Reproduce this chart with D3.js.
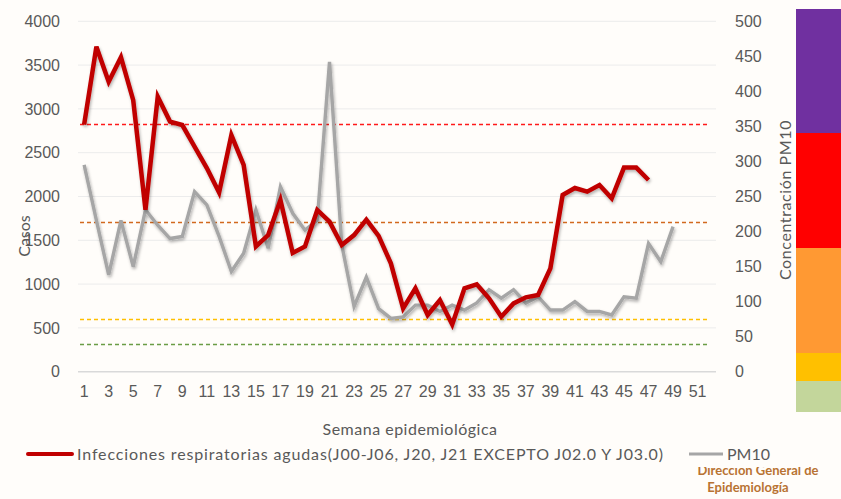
<!DOCTYPE html>
<meta charset="utf-8">
<style>
  body { margin: 0; background: #fffdfa; }
  svg { display: block; font-family: Lato, "Open Sans", sans-serif; }
</style>
<body>
<svg width="841" height="499"></svg>

<script src="https://d3js.org/d3.v7.min.js"></script>
<script>

// weeks on the x axis (1..52), only the odd ones get a label
var weeks = d3.range(1, 53);

// casos de infecciones respiratorias agudas, semanas 1-47
var ira = [2820, 3710, 3310, 3590, 3100, 1850, 3140, 2855, 2816, 2570,
           2325, 2045, 2700, 2360, 1430, 1560, 1960, 1355, 1430, 1846,
           1712, 1446, 1560, 1735, 1550, 1237, 723, 952, 647, 818,
           540, 952, 997, 838, 628, 780, 849, 875, 1180, 2017,
           2097, 2055, 2131, 1979, 2330, 2330, 2188];

// concentracion PM10, semanas 1-49
var pm10 = [295, 216, 138, 216, 150, 231, 209, 190, 193, 257,
            238, 193, 143, 169, 231, 176, 264, 226, 202, 216,
            442, 181, 93, 135, 90, 76, 78, 95, 95, 86,
            95, 88, 98, 117, 105, 117, 98, 107, 88, 88,
            100, 86, 86, 81, 107, 105, 183, 157, 207];

// limites de PM10 (lineas punteadas)
var limits = [40, 75, 214, 354];
var limitColors = ["#6a9d45", "#ffc000", "#d2691e", "#ff1a1a"];

// barra de colores a la derecha (tamaño relativo de cada franja, de abajo hacia arriba)
var bandSizes = [31, 28, 105, 115, 124];
var bandColors = ["#c3d69b", "#ffc000", "#ff9933", "#ff0000", "#7030a0"];

var leftTicks = d3.range(0, 4001, 500);
var rightTicks = d3.range(0, 501, 50);

var svg = d3.select("svg");
var textColor = "#595959";

var x = d3.scaleBand().domain(weeks).range([78, 716]);
var y = d3.scaleLinear().domain([0, 4000]).range([371.7, 21.3]);
var y2 = d3.scaleLinear().domain([0, 500]).range([371.7, 21.3]);

// shadow for the lines
var defs = svg.append("defs");
var f = defs.append("filter").attr("id", "shadow")
    .attr("x", "-10%").attr("y", "-10%").attr("width", "120%").attr("height", "120%");
f.append("feDropShadow").attr("dx", 1).attr("dy", 2).attr("stdDeviation", 1.4)
    .attr("flood-color", "#000").attr("flood-opacity", 0.3);

// gridlines
svg.append("g")
  .selectAll("line").data(leftTicks).join("line")
    .attr("x1", 78).attr("x2", 716)
    .attr("y1", function(d) { return y(d); })
    .attr("y2", function(d) { return y(d); })
    .attr("stroke", function(d) { return d === 0 ? "#d9d9d9" : "#ececec"; })
    .attr("stroke-width", function(d) { return d === 0 ? 1.5 : 1; });

// left axis
var yAxis = d3.axisLeft(y).tickValues(leftTicks).tickFormat(d3.format("d"))
    .tickSize(0).tickPadding(0);
var gy = svg.append("g").attr("transform", "translate(60,0)").call(yAxis);
gy.select(".domain").remove();
gy.selectAll("text").attr("fill", textColor).style("font-size", "16px");

// right axis
var y2Axis = d3.axisRight(y2).tickValues(rightTicks).tickFormat(d3.format("d"))
    .tickSize(0).tickPadding(0);
var gy2 = svg.append("g").attr("transform", "translate(735,0)").call(y2Axis);
gy2.select(".domain").remove();
gy2.selectAll("text").attr("fill", textColor).style("font-size", "16px");

// x axis
var xAxis = d3.axisBottom(x)
    .tickValues(weeks.filter(function(d) { return d % 2 === 1; }))
    .tickSize(0).tickPadding(0);
var gx = svg.append("g").attr("transform", "translate(0,386)").call(xAxis);
gx.select(".domain").remove();
gx.selectAll("text").attr("fill", textColor).style("font-size", "16px");

// axis titles
svg.append("text")
    .attr("transform", "translate(30,236) rotate(-90)")
    .attr("text-anchor", "middle").attr("fill", textColor)
    .style("font-size", "16px")
    .text("Casos");

svg.append("text")
    .attr("transform", "translate(791,200) rotate(-90)")
    .attr("text-anchor", "middle").attr("fill", textColor)
    .style("font-size", "16px").style("letter-spacing", "0.6px")
    .text("Concentración PM10");

svg.append("text")
    .attr("x", 410).attr("y", 435)
    .attr("text-anchor", "middle").attr("fill", textColor)
    .style("font-size", "16px").style("letter-spacing", "0.5px")
    .text("Semana epidemiológica");

// threshold lines
svg.append("g")
  .selectAll("line").data(limits).join("line")
    .attr("x1", 80).attr("x2", 709)
    .attr("y1", function(d) { return Math.round(y2(d)) + 0.5; })
    .attr("y2", function(d) { return Math.round(y2(d)) + 0.5; })
    .attr("stroke", function(d, i) { return limitColors[i]; })
    .attr("stroke-width", 1.5)
    .attr("stroke-dasharray", "4,3");

// PM10 line
var linePm = d3.line()
    .x(function(d, i) { return x(weeks[i]) + x.bandwidth() / 2; })
    .y(function(d) { return y2(d); });

svg.append("path")
    .datum(pm10)
    .attr("d", linePm)
    .attr("fill", "none")
    .attr("stroke", "#a6a6a6")
    .attr("stroke-width", 3.4)
    .attr("stroke-linejoin", "miter")
    .attr("filter", "url(#shadow)");

// IRA line
var lineIra = d3.line()
    .x(function(d, i) { return x(weeks[i]) + x.bandwidth() / 2; })
    .y(function(d) { return y(d); });

svg.append("path")
    .datum(ira)
    .attr("d", lineIra)
    .attr("fill", "none")
    .attr("stroke", "#c00000")
    .attr("stroke-width", 4.5)
    .attr("stroke-linejoin", "miter")
    .attr("filter", "url(#shadow)");

// color bar on the right
var total = d3.sum(bandSizes);
var bandScale = d3.scaleLinear().domain([0, total]).range([412, 9]);
var cum = 0;
var bands = bandSizes.map(function(s, i) {
  var b = { from: cum, to: cum + s, color: bandColors[i] };
  cum += s;
  return b;
});
svg.append("g")
  .selectAll("rect").data(bands).join("rect")
    .attr("x", 796).attr("width", 45)
    .attr("y", function(d) { return bandScale(d.to); })
    .attr("height", function(d) { return bandScale(d.from) - bandScale(d.to); })
    .attr("fill", function(d) { return d.color; });

// legend
var lg = svg.append("g");
lg.append("line").attr("x1", 28).attr("x2", 72).attr("y1", 454).attr("y2", 454)
    .attr("stroke", "#c00000").attr("stroke-width", 4).attr("stroke-linecap", "round");
lg.append("text").attr("x", 77).attr("y", 460)
    .attr("fill", textColor).style("font-size", "16px")
    .attr("textLength", 586).attr("lengthAdjust", "spacing")
    .text("Infecciones respiratorias agudas(J00-J06, J20, J21 EXCEPTO J02.0 Y J03.0)");
lg.append("line").attr("x1", 689).attr("x2", 723).attr("y1", 454).attr("y2", 454)
    .attr("stroke", "#a6a6a6").attr("stroke-width", 3);
lg.append("text").attr("x", 727).attr("y", 460)
    .attr("fill", textColor).style("font-size", "16px")
    .text("PM10");

// logo text at the bottom right (top line is cut)
defs.append("clipPath").attr("id", "logoclip")
  .append("rect").attr("x", 690).attr("y", 467).attr("width", 140).attr("height", 32);
svg.append("text")
    .attr("x", 758).attr("y", 475)
    .attr("clip-path", "url(#logoclip)")
    .attr("text-anchor", "middle").attr("fill", "#b87333")
    .style("font-size", "13px").style("font-weight", "bold")
    .text("Dirección General de");
svg.append("text")
    .attr("x", 748).attr("y", 492)
    .attr("text-anchor", "middle").attr("fill", "#b87333")
    .style("font-size", "13px").style("font-weight", "bold")
    .text("Epidemiología");

</script>
</body>
